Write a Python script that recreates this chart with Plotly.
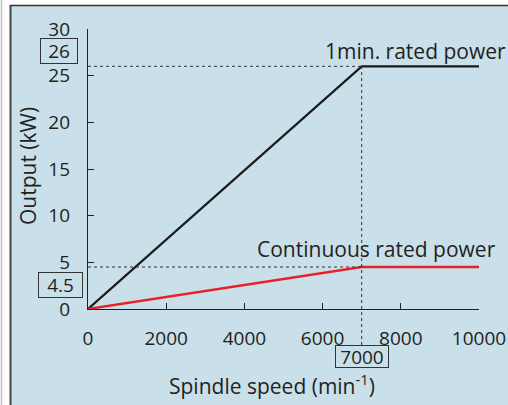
import plotly.graph_objects as go

# ---- data ----
speed_1min = [0, 7000, 10000]          # min^-1
power_1min = [0, 26, 26]               # kW
speed_cont = [0, 7000, 10000]
power_cont = [0, 4.5, 4.5]
x_ticks = [0, 2000, 4000, 6000, 8000, 10000]
y_ticks = [0, 5, 10, 15, 20, 25, 30]
knee_speed = 7000
p_1min = 26
p_cont = 4.5
x_max = 10000
y_max = 30

W, H = 508, 405
L, R, T, B = 88, 29, 29, 96
PW, PH = W - L - R, H - T - B

def xp(px):
    return (px - L) / PW

def yp(py):
    return (T + PH - py) / PH

BLUE = "#c9dfe9"
INK = "#231f20"
FONT = "Open Sans"
TICK = 19
TXT = 21

fig = go.Figure()
fig.add_trace(go.Scatter(x=speed_1min, y=power_1min, mode="lines",
                         line=dict(color="#1a1a1a", width=2.2), cliponaxis=False,
                         showlegend=False, hoverinfo="skip"))
fig.add_trace(go.Scatter(x=speed_cont, y=power_cont, mode="lines",
                         line=dict(color="#e8202a", width=2.4), cliponaxis=False,
                         showlegend=False, hoverinfo="skip"))

shapes = [
    # white strip on the left and top, framing lines
    dict(type="rect", xref="paper", yref="paper", x0=xp(0), x1=xp(10), y0=yp(H), y1=yp(0),
         fillcolor="white", line_width=0, layer="below"),
    dict(type="rect", xref="paper", yref="paper", x0=xp(0), x1=xp(W), y0=yp(5), y1=yp(0),
         fillcolor="white", line_width=0, layer="below"),
    dict(type="line", xref="paper", yref="paper", x0=xp(1.5), x1=xp(1.5), y0=yp(0), y1=yp(H),
         line=dict(color="#c0c0c0", width=1.5), layer="below"),
    dict(type="line", xref="paper", yref="paper", x0=xp(10.5), x1=xp(10.5), y0=yp(5), y1=yp(H),
         line=dict(color="#444444", width=2), layer="below"),
    dict(type="line", xref="paper", yref="paper", x0=xp(10), x1=xp(W), y0=yp(5.5), y1=yp(5.5),
         line=dict(color="#333333", width=1.5), layer="below"),
    # dotted guide lines
    dict(type="line", xref="x", yref="y", x0=0, x1=knee_speed, y0=p_1min, y1=p_1min,
         line=dict(color="#333333", width=1, dash="dot")),
    dict(type="line", xref="x", yref="y", x0=0, x1=knee_speed, y0=p_cont, y1=p_cont,
         line=dict(color="#333333", width=1, dash="dot")),
    dict(type="line", xref="x", yref="paper", x0=knee_speed, x1=knee_speed,
         y0=yp(345), y1=p_1min / y_max,
         line=dict(color="#333333", width=1, dash="dot")),
]

C = dict(xanchor="center", yanchor="middle", showarrow=False)
BOX = dict(bordercolor="#333333", borderwidth=1, borderpad=0, bgcolor=BLUE, align="center")
ann = [
    dict(text="1min. rated power", xref="paper", yref="paper", x=xp(415), y=yp(51),
         font=dict(size=TXT, color=INK, family=FONT), **C),
    dict(text="Continuous rated power", xref="paper", yref="paper", x=xp(376), y=yp(249),
         font=dict(size=TXT, color=INK, family=FONT), **C),
    dict(text=str(p_1min), xref="paper", yref="y", x=xp(59), y=p_1min, yshift=15,
         width=36, height=24, font=dict(size=TICK, color=INK, family=FONT), **BOX, **C),
    dict(text=str(p_cont), xref="paper", yref="y", x=xp(60), y=p_cont, yshift=-18,
         width=43, height=24, font=dict(size=TICK, color=INK, family=FONT), **BOX, **C),
    dict(text=str(knee_speed), xref="x", yref="paper", x=knee_speed, y=yp(356.5),
         width=52, height=21, font=dict(size=TICK, color=INK, family=FONT), **BOX, **C),
    dict(text="Output (kW)", xref="paper", yref="paper", x=xp(28), y=yp(166),
         textangle=-90, font=dict(size=TXT, color=INK, family=FONT), **C),
    dict(text="Spindle speed (min<sup>-1</sup>)", xref="paper", yref="paper", x=xp(272), y=yp(384),
         font=dict(size=TXT, color=INK, family=FONT), **C),
]

fig.update_layout(
    width=W, height=H,
    margin=dict(l=L, r=R, t=T, b=B, pad=0),
    paper_bgcolor=BLUE, plot_bgcolor="rgba(0,0,0,0)",
    shapes=shapes, annotations=ann,
    font=dict(family=FONT, size=TICK, color=INK),
    xaxis=dict(range=[0, x_max], tickvals=x_ticks, ticktext=[str(v) for v in x_ticks],
               showgrid=False, zeroline=False, showline=True, linecolor=INK, linewidth=1.2,
               ticks="inside", ticklen=6, tickcolor=INK, tickwidth=1.2,
               ticklabelstandoff=12, fixedrange=True, automargin=False),
    yaxis=dict(range=[0, y_max], tickvals=y_ticks, ticktext=[str(v) for v in y_ticks],
               showgrid=False, zeroline=False, showline=True, linecolor=INK, linewidth=1.2,
               ticks="inside", ticklen=6, tickcolor=INK, tickwidth=1.2,
               ticklabelstandoff=13, fixedrange=True, automargin=False),
)

fig.write_html("out.html", config={"displayModeBar": False},
               post_script="document.body.style.margin='0';document.body.style.overflow='hidden';")
